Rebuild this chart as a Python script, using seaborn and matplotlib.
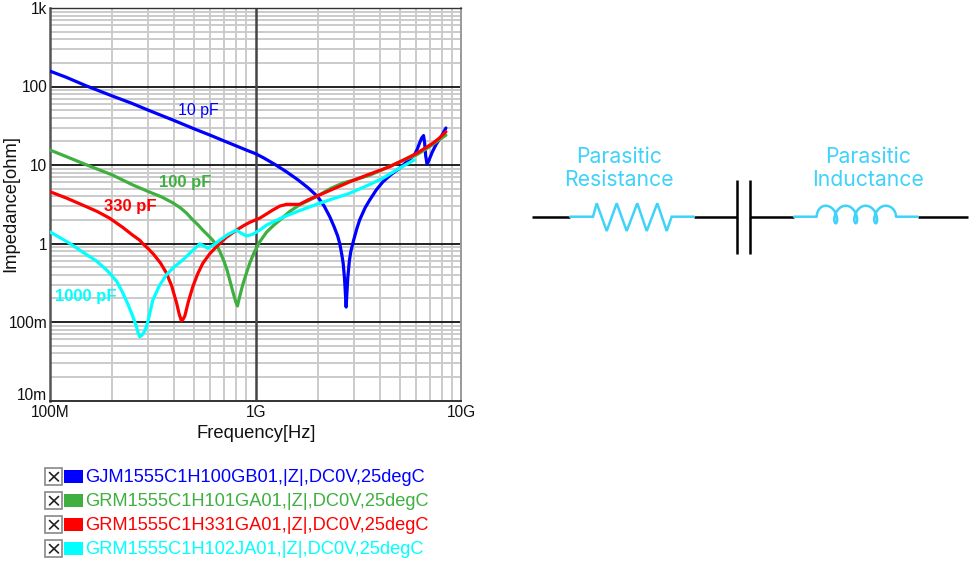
import numpy as np
import pandas as pd
import matplotlib
matplotlib.use("Agg")
import matplotlib.pyplot as plt
from matplotlib.patches import Rectangle
from matplotlib.ticker import FixedLocator, FixedFormatter, NullFormatter
import seaborn as sns

# ---- data (frequency in GHz, impedance in ohm)
f_10 = [.1, .12, .15, .2, .25, .3, .4, .5, .6, .7, .8, .9, 1.0, 1.1, 1.237, 1.4, 1.6, 1.8, 2.0, 2.15, 2.29, 2.4, 2.5, 2.56, 2.62, 2.66, 2.7, 2.73, 2.75, 2.77, 2.8, 2.85, 2.9, 2.99, 3.1, 3.2, 3.4, 3.58, 3.85, 4.15, 4.5, 5, 5.4, 5.9, 6.1, 6.25, 6.4, 6.54, 6.62, 6.7, 6.8, 6.95, 7.2, 7.5, 8, 8.4]
z_10 = [157, 131, 102, 76, 61, 50, 37, 29, 24, 20.3, 17.6, 15.5, 13.9, 12.2, 10.2, 8.3, 6.5, 5.1, 3.95, 3.0, 2.19, 1.65, 1.25, 1.0, .72, .56, .36, .22, .155, .22, .36, .6, .8, 1.1, 1.55, 2.0, 2.85, 3.58, 4.8, 6.1, 7.4, 9.1, 10.9, 13.4, 16, 19, 22, 23.7, 19, 13, 10.3, 11.5, 14.5, 18, 23.5, 29.6]
f_100 = [.1, .12, .151, .2, .253, .3, .35, .395, .43, .46, .494, .525, .553, .585, .618, .645, .668, .7, .725, .748, .775, .8, .815, .835, .865, .901, .935, .98, 1.045, 1.13, 1.22, 1.31, 1.46, 1.63, 1.8, 1.97, 2.3, 2.65, 3.1, 3.58, 4.2, 4.82, 5.4, 6.03, 6.6, 7.2, 7.8, 8.4]
z_100 = [15.5, 12.8, 10, 7.5, 5.56, 4.6, 3.9, 3.3, 2.85, 2.45, 2.0, 1.72, 1.48, 1.28, 1.1, .95, .8, .6, .46, .34, .24, .18, .16, .21, .3, .42, .56, .76, 1.05, 1.4, 1.7, 1.99, 2.55, 3.1, 3.5, 3.95, 5.0, 5.9, 6.6, 7.4, 8.9, 10.5, 11.9, 13.4, 15.5, 18, 21, 24]
f_330 = [.1, .12, .15, .17, .195, .226, .25, .273, .282, .3, .32, .345, .368, .39, .412, .425, .435, .443, .452, .47, .494, .522, .553, .6, .644, .72, .806, .87, .935, 1.045, 1.12, 1.21, 1.31, 1.41, 1.52, 1.63, 1.8, 2.04, 2.4, 2.86, 3.5, 4.47, 5.2, 6.03, 6.6, 7.25, 7.8, 8.4]
z_330 = [4.57, 3.8, 2.95, 2.55, 2.1, 1.6, 1.3, 1.1, 1, .86, .72, .56, .42, .29, .176, .125, .104, .108, .119, .18, .28, .41, .56, .75, .91, 1.2, 1.48, 1.68, 1.86, 2.1, 2.35, 2.67, 3.0, 3.15, 3.15, 3.15, 3.6, 4.15, 5.0, 6.1, 7.5, 9.5, 11.5, 14, 16.2, 18.9, 22, 26.5]
f_1000 = [.1, .11, .125, .145, .168, .19, .211, .225, .24, .252, .263, .268, .273, .28, .29, .3, .316, .34, .368, .4, .443, .49, .535, .56, .585, .625, .668, .73, .806, .85, .901, .96, 1.045, 1.13, 1.35, 1.65, 2.04, 2.4, 2.86, 3.5, 4.14, 5, 5.4, 5.9]
z_1000 = [1.4, 1.22, 1, .77, .6, .45, .33, .24, .165, .12, .088, .073, .065, .068, .078, .105, .19, .29, .4, .5, .62, .8, .99, .93, .87, .96, 1.1, 1.3, 1.48, 1.35, 1.25, 1.3, 1.48, 1.72, 2.15, 2.65, 3.25, 3.75, 4.36, 5.5, 6.77, 9.1, 10.2, 11.6]

series_names = ["10 pF", "100 pF", "330 pF", "1000 pF"]
legend_labels = ["GJM1555C1H100GB01,|Z|,DC0V,25degC", "GRM1555C1H101GA01,|Z|,DC0V,25degC",
                 "GRM1555C1H331GA01,|Z|,DC0V,25degC", "GRM1555C1H102JA01,|Z|,DC0V,25degC"]
colors = ["#0000ff", "#3fb040", "#ff0000", "#00ffff"]
x_ticks = [1e8, 1e9, 1e10]
x_labels = ["100M", "1G", "10G"]
y_ticks = [0.01, 0.1, 1, 10, 100, 1000]
y_labels = ["10m", "100m", "1", "10", "100", "1k"]

W, H = 970, 566
sns.set_theme(style="white")
plt.rcParams["font.family"] = ["Liberation Sans", "DejaVu Sans"]

frames = []
for name, fr, zv in zip(series_names, [f_10, f_100, f_330, f_1000], [z_10, z_100, z_330, z_1000]):
    frames.append(pd.DataFrame({"f": np.array(fr) * 1e9, "z": zv, "series": name}))
df = pd.concat(frames, ignore_index=True)

fig = plt.figure(figsize=(W / 100, H / 100), dpi=100, facecolor="white")
ax = fig.add_axes([50 / W, 1 - 400.5 / H, 411.5 / W, 392.5 / H])
ax.set_xscale("log")
ax.set_yscale("log")
sns.lineplot(data=df, x="f", y="z", hue="series", hue_order=series_names, palette=colors,
             estimator=None, sort=False, linewidth=2.3, legend=False, ax=ax, zorder=5)
ax.set_xlim(1e8, 1e10)
ax.set_ylim(0.01, 1000)

subs = [m * 10.0 ** e for e in range(-2, 10) for m in range(2, 10)]
ax.xaxis.set_major_locator(FixedLocator(x_ticks))
ax.xaxis.set_major_formatter(FixedFormatter(x_labels))
ax.yaxis.set_major_locator(FixedLocator(y_ticks))
ax.yaxis.set_major_formatter(FixedFormatter(y_labels))
ax.xaxis.set_minor_locator(FixedLocator(subs))
ax.yaxis.set_minor_locator(FixedLocator(subs))
ax.xaxis.set_minor_formatter(NullFormatter())
ax.yaxis.set_minor_formatter(NullFormatter())
ax.set_axisbelow(True)
ax.grid(False, which="major")
ax.grid(True, which="minor", axis="both", color="#cbcbcb", linewidth=1.4)
for v in y_ticks[1:-1]:
    ax.axhline(v, color="#111111", linewidth=1.3, zorder=1)
ax.axvline(x_ticks[1], color="#444444", linewidth=1.8, zorder=1.1)
ax.tick_params(which="both", length=0)
ax.tick_params(axis="both", which="major", labelsize=11.2, labelcolor="#111111")
ax.tick_params(axis="x", pad=3)
ax.tick_params(axis="y", pad=2)
for lab, t in zip(ax.get_yticklabels(), y_labels):
    if t == "10m":
        lab.set_verticalalignment("baseline")
for side, col, lw in [("left", "#555555", 1.8), ("bottom", "#333333", 1.4), ("top", "#333333", 1.0), ("right", "#999999", 1.4)]:
    ax.spines[side].set_visible(True)
    ax.spines[side].set_color(col)
    ax.spines[side].set_linewidth(lw)
ax.set_xlabel("")
ax.set_ylabel("")

# ---- overlay in figure pixels: labels, legend, schematic
ov = fig.add_axes([0, 0, 1, 1], facecolor="none")
ov.set_xlim(0, W)
ov.set_ylim(H, 0)
ov.axis("off")

ov.text(256, 433, "Frequency[Hz]", ha="center", va="center", fontsize=13.2, color="#111111")
ov.text(11, 204, "Impedance[ohm]", ha="center", va="center", rotation=90, fontsize=13.2, color="#111111")

curve_labels = [(198, 110, "normal", 11.4), (185, 183, "bold", 12), (130, 206, "bold", 12), (86, 296, "bold", 12)]
for (lx, ly, wt, fs), name, c in zip(curve_labels, series_names, colors):
    ov.text(lx, ly, name, ha="center", va="center", fontsize=fs, color=c, fontweight=wt)

legend_y = [477, 501, 525, 549]
for ly, lab, c in zip(legend_y, legend_labels, colors):
    ov.add_patch(Rectangle((45.5, ly - 9), 17, 17, facecolor="white", edgecolor="#888888", linewidth=1.2))
    ov.plot([49.5, 58.5], [ly - 4.5, ly + 4], color="#222222", lw=1.2)
    ov.plot([49.5, 58.5], [ly + 4, ly - 4.5], color="#222222", lw=1.2)
    ov.add_patch(Rectangle((64, ly - 7.5), 19, 13, facecolor=c, edgecolor="none"))
    ov.text(85, ly + 0.5, lab, ha="left", va="center", fontsize=13.15, color=c)

cy = "#3fd2fb"
yb = 216.7
for a, b in [(532.3, 570), (694, 737.3), (750.3, 794), (917.7, 967.7)]:
    ov.plot([a, b], [yb, yb], color="black", lw=1.8, solid_capstyle="butt")
for xp in (737.3, 750.3):
    ov.plot([xp, xp], [180, 254], color="black", lw=1.8, solid_capstyle="butt")

zx = [570, 593, 596.7, 606.7, 616.7, 626.7, 637.3, 646.7, 657.3, 666.7, 671.7, 694]
zy = [yb, yb, 203.3, 231, 203.3, 231, 203.3, 231, 203.3, 231, yb, yb]
ov.plot(zx, zy, color=cy, lw=1.8, solid_joinstyle="miter")

t = np.linspace(0, 6 * np.pi, 300)
cx = 825.7 + 10 / np.pi * t + 5.5 * np.sin(t)
cyy = 214.5 - 8.8 * np.cos(t)
a1 = np.linspace(np.pi, np.pi / 2, 20)
ix1 = 825.7 + 9 * np.cos(a1)
iy1 = yb - 11 * np.sin(a1)
a2 = np.linspace(np.pi / 2, 0, 20)
ix2 = 885.7 + 10.3 * np.cos(a2)
iy2 = yb - 11 * np.sin(a2)
ov.plot(np.r_[794, 816.7, ix1, cx, ix2, 917.7], np.r_[yb, yb, iy1, cyy, iy2, yb], color=cy, lw=1.8)

for xc, lines in [(619, ["Parasitic", "Resistance"]), (868, ["Parasitic", "Inductance"])]:
    for yy, s in zip([157, 180.5], lines):
        ov.text(xc, yy, s, ha="center", va="center", fontsize=15.3, color=cy, family="Inter")

fig.savefig("out.png", dpi=100)
